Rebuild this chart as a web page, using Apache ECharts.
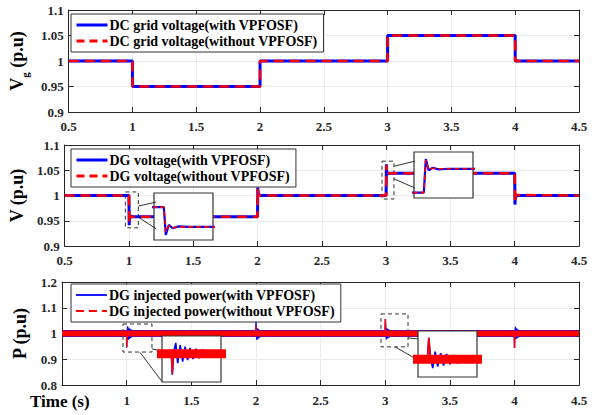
<!DOCTYPE html>
<html><head><meta charset="utf-8">
<script src="https://cdn.jsdelivr.net/npm/echarts@6/dist/echarts.min.js"></script>
<style>html,body{margin:0;padding:0;background:#fff}#c{width:600px;height:415px}</style>
</head><body><div id="c"></div>
<script>
// ---------------- data ----------------
const gridVoltageWith    = [[0.5,1.0],[1.0,1.0],[1.0,0.95],[2.0,0.95],[2.0,1.0],[3.0,1.0],[3.0,1.05],[4.0,1.05],[4.0,1.0],[4.5,1.0]];
const gridVoltageWithout = [[0.5,1.0],[1.0,1.0],[1.0,0.95],[2.0,0.95],[2.0,1.0],[3.0,1.0],[3.0,1.05],[4.0,1.05],[4.0,1.0],[4.5,1.0]];

const dgVoltageWith = [[0.5,1.0],[1.0,1.0],[1.002,0.941],[1.005,0.962],[1.009,0.955],[1.015,0.959],[1.025,0.958],
  [2.0,0.958],[2.002,1.016],[2.006,0.999],[2.012,1.002],[2.025,1.0],
  [3.0,1.0],[3.002,1.062],[3.005,1.041],[3.009,1.046],[3.015,1.043],[3.025,1.044],
  [4.0,1.044],[4.002,0.982],[4.006,1.003],[4.012,0.999],[4.025,1.0],[4.5,1.0]];
const dgVoltageWithout = [[0.5,1.0],[1.0,1.0],[1.002,0.947],[1.005,0.961],[1.009,0.956],[1.015,0.958],
  [2.0,0.958],[2.002,1.013],[2.006,1.0],
  [3.0,1.0],[3.002,1.06],[3.005,1.042],[3.009,1.045],[3.015,1.044],
  [4.0,1.044],[4.002,0.985],[4.006,1.001],[4.5,1.0]];

// injected power: steady level (dense ripple band) and transients
const powerSteady = [[0.5,1.0],[4.5,1.0]];
const powerWith = [[0.5,1.0],
  [0.999,1.0],[1.001,0.945],[1.004,1.005],[1.008,1.028],[1.012,0.975],[1.017,1.022],[1.022,0.979],[1.027,1.018],[1.032,0.983],[1.037,1.015],[1.043,0.986],[1.049,1.013],[1.055,0.988],[1.062,1.011],[1.07,0.99],[1.08,1.0],
  [1.999,1.0],[2.001,1.06],[2.004,0.99],[2.008,0.975],[2.013,1.02],[2.018,0.98],[2.023,1.016],[2.028,0.984],[2.034,1.013],[2.04,0.987],[2.047,1.011],[2.055,0.989],[2.065,1.0],
  [2.999,1.0],[3.002,1.056],[3.006,1.0],[3.01,0.977],[3.015,1.02],[3.02,0.981],[3.026,1.016],[3.032,0.984],[3.038,1.014],[3.045,0.987],[3.052,1.011],[3.06,0.99],[3.07,1.0],
  [3.999,1.0],[4.001,0.945],[4.004,1.0],[4.008,1.026],[4.012,0.978],[4.017,1.02],[4.022,0.982],[4.028,1.016],[4.034,0.985],[4.041,1.013],[4.049,0.988],[4.058,1.011],[4.068,0.99],[4.08,1.0],
  [4.5,1.0]];
const powerWithout = [[0.5,1.0],
  [0.999,1.0],[1.001,0.948],[1.003,1.0],
  [1.999,1.0],[2.001,1.03],[2.003,1.0],
  [2.999,1.0],[3.002,1.056],[3.005,1.0],
  [3.999,1.0],[4.001,0.944],[4.003,1.0],
  [4.5,1.0]];

// zoom-box annotations (data coordinates of main axes)
const voltZoomBoxes = [[[0.972,1.007],[1.073,0.936]], [[2.968,1.068],[3.061,0.993]]];
const voltConnectors = [[[1.073,0.979],[1.212,0.987]], [[1.073,0.957],[1.212,0.934]],
                        [[3.061,1.058],[3.223,1.068]], [[3.061,1.033],[3.223,1.015]]];
const powZoomBoxes = [[[0.972,1.037],[1.196,0.928]], [[2.968,1.076],[3.177,0.948]]];
const powConnectors = [[[1.196,0.940],[1.274,0.932]], [[1.103,0.927],[1.274,0.813]],
                       [[3.177,0.983],[3.254,0.979]], [[3.077,0.948],[3.254,0.897]]];

const names = {
  g1: 'DC grid voltage(with VPFOSF)', g2: 'DC grid voltage(without VPFOSF)',
  v1: 'DG voltage(with VPFOSF)', v2: 'DG voltage(without VPFOSF)',
  p1: 'DG injected power(with VPFOSF)', p2: 'DG injected power(without VPFOSF)'
};

// ---------------- layout / style ----------------
const FONT = '"Liberation Serif", "Times New Roman", serif';
const AX = '#262626';
const BLUE = '#0000ff', RED = '#ff0000';
const mainGrids = [
  {left:62, right:21, top:10, height:102},
  {left:62, right:21, top:145, height:101},
  {left:62, right:21, top:282, height:103}
];
const insetGrids = [
  {left:154, top:193, width:59, height:47},
  {left:414, top:152, width:59, height:46},
  {left:162, top:336, width:59, height:46},
  {left:418, top:331, width:59, height:46}
];
const insetX = [[0.99,1.05],[2.99,3.05],[0.98,1.10],[2.98,3.10]];
const insetY = [[0.93,1.03],[0.99,1.075],[0.926,1.046],[0.954,1.074]];
const yRanges = [[0.9,1.1,0.05],[0.9,1.1,0.05],[0.8,1.2,0.1]];

const grids = [];
mainGrids.forEach(g => grids.push(Object.assign({show:false}, g)));
insetGrids.forEach(g => grids.push(Object.assign({show:true, z:5, backgroundColor:'#fff', borderColor:'#333', borderWidth:1.2}, g)));

const lbl = {fontFamily:FONT, fontWeight:'bold', fontSize:13, color:AX};
const xAxes = [], yAxes = [];
const yNames = ['{v|V}{s|g}{v| (p.u)}', 'V (p.u)', 'P (p.u)'];
for (let i = 0; i < 3; i++) {
  xAxes.push({type:'value', gridIndex:i, min:0.5, max:4.5, interval:0.5,
    axisLine:{show:true, onZero:false, lineStyle:{color:AX, width:1}},
    axisTick:{show:true, inside:true, length:5, lineStyle:{color:AX}},
    axisLabel:Object.assign({margin: i===2 ? 9 : 8, showMinLabel: i<2}, lbl),
    splitLine:{show:true, lineStyle:{color:'#ebebeb', width:1}}});
  xAxes.push({type:'value', gridIndex:i, position:'top', min:0.5, max:4.5, interval:0.5,
    axisLine:{show:true, onZero:false, lineStyle:{color:AX, width:1}},
    axisTick:{show:true, inside:true, length:5, lineStyle:{color:AX}},
    axisLabel:{show:false}, splitLine:{show:false}});
  const r = yRanges[i];
  yAxes.push({type:'value', gridIndex:i, min:r[0], max:r[1], interval:r[2],
    name: yNames[i], nameLocation:'middle', nameRotate:90, nameGap:33,
    nameTextStyle:{fontFamily:FONT, fontWeight:'bold', fontSize:18, color:'#000',
      rich:{v:{fontFamily:FONT, fontWeight:'bold', fontSize:18, lineHeight:26, color:'#000'},
            s:{fontFamily:FONT, fontWeight:'bold', fontSize:11, lineHeight:11, verticalAlign:'bottom', color:'#000'}}},
    axisLine:{show:true, onZero:false, lineStyle:{color:AX, width:1}},
    axisTick:{show:true, inside:true, length:5, lineStyle:{color:AX}},
    axisLabel:Object.assign({margin:5}, lbl),
    splitLine:{show:true, lineStyle:{color:'#ebebeb', width:1}}});
  yAxes.push({type:'value', gridIndex:i, position:'right', min:r[0], max:r[1], interval:r[2],
    axisLine:{show:true, onZero:false, lineStyle:{color:AX, width:1}},
    axisTick:{show:true, inside:true, length:5, lineStyle:{color:AX}},
    axisLabel:{show:false}, splitLine:{show:false}});
}
for (let j = 0; j < 4; j++) {
  xAxes.push({type:'value', gridIndex:3+j, min:insetX[j][0], max:insetX[j][1], show:false, z:6});
  yAxes.push({type:'value', gridIndex:3+j, min:insetY[j][0], max:insetY[j][1], show:false, z:6});
}

function line(name, data, xi, yi, color, width, type, z) {
  return {type:'line', name, data, xAxisIndex:xi, yAxisIndex:yi, symbol:'none', showSymbol:false,
    clip:true, animation:false, silent:true, z: z || 2,
    lineStyle:{color, width, type: type || 'solid'}, itemStyle:{color}};
}
function boxes(list) {
  return {silent:true, label:{show:false},
    itemStyle:{color:'rgba(0,0,0,0)', borderColor:'#333', borderWidth:1, borderType:[4,3]},
    data: list.map(b => [{coord:b[0]}, {coord:b[1]}])};
}
function connectors(list) {
  return {silent:true, symbol:['none','none'], label:{show:false},
    lineStyle:{color:'#333', width:1, type:'solid'},
    data: list.map(c => [{coord:c[0]}, {coord:c[1]}])};
}

const series = [];
// panel 1
series.push(line(names.g1, gridVoltageWith, 0, 0, BLUE, 3));
series.push(line(names.g2, gridVoltageWithout, 0, 0, RED, 2.5, [10,6], 3));
// panel 2
const v1 = line(names.v1, dgVoltageWith, 2, 2, BLUE, 3);
v1.markArea = boxes(voltZoomBoxes);
v1.markLine = connectors(voltConnectors);
series.push(v1);
series.push(line(names.v2, dgVoltageWithout, 2, 2, RED, 2.5, [10,6], 3));
// panel 3
const p1 = line(names.p1, powerWith, 4, 4, BLUE, 1.3);
p1.markArea = boxes(powZoomBoxes);
p1.markLine = connectors(powConnectors);
series.push(p1);
series.push(line('pBandBlue', powerSteady, 4, 4, BLUE, 7, 'solid', 1));
series.push(line(names.p2, powerSteady, 4, 4, RED, 6, 'solid', 3));
series.push(line('pSpikeRed', powerWithout, 4, 4, RED, 1.5, 'solid', 3));
// insets voltage
for (let j = 0; j < 2; j++) {
  series.push(line('insV1_' + j, dgVoltageWith, 6+j, 6+j, BLUE, 2.2, 'solid', 7));
  series.push(line('insV2_' + j, dgVoltageWithout, 6+j, 6+j, RED, 1.6, [5,3], 8));
}
// insets power
for (let j = 2; j < 4; j++) {
  series.push(line('insP1_' + j, powerWith, 6+j, 6+j, BLUE, 1.6, 'solid', 7));
  series.push(line('insP2_' + j, powerSteady, 6+j, 6+j, RED, 9, 'solid', 8));
  series.push(line('insPS_' + j, powerWithout, 6+j, 6+j, RED, 1.6, 'solid', 8));
}

function legend(top, n1, n2, w) {
  const hide = {opacity:0, borderWidth:0};
  return {show:true, orient:'vertical', left:71, top:top, itemWidth:31, itemHeight:14, itemGap:2,
    padding:[4,6,4,4], backgroundColor:'#fff', borderColor:'#333', borderWidth:1, borderRadius:0,
    selectedMode:false,
    textStyle:{fontFamily:FONT, fontWeight:'bold', fontSize:14, color:'#000', padding:[0,0,0,-3]},
    data:[{name:n1, itemStyle:hide, lineStyle:{width:w, type:'solid', color:BLUE}},
          {name:n2, itemStyle:hide, lineStyle:{width:w, type:[8,5], color:RED}}]};
}

const option = {
  backgroundColor:'#fff',
  animation:false,
  title:{text:'Time (s)', left:30, top:393, padding:0,
    textStyle:{fontFamily:FONT, fontWeight:'bold', fontSize:17, color:'#000'}},
  grid: grids,
  xAxis: xAxes,
  yAxis: yAxes,
  legend: [legend(14, names.g1, names.g2, 3), legend(149, names.v1, names.v2, 3), legend(284, names.p1, names.p2, 1.8)],
  series: series
};
const chart = echarts.init(document.getElementById('c'), null, {renderer:'svg'});
chart.setOption(option);
</script></body></html>
